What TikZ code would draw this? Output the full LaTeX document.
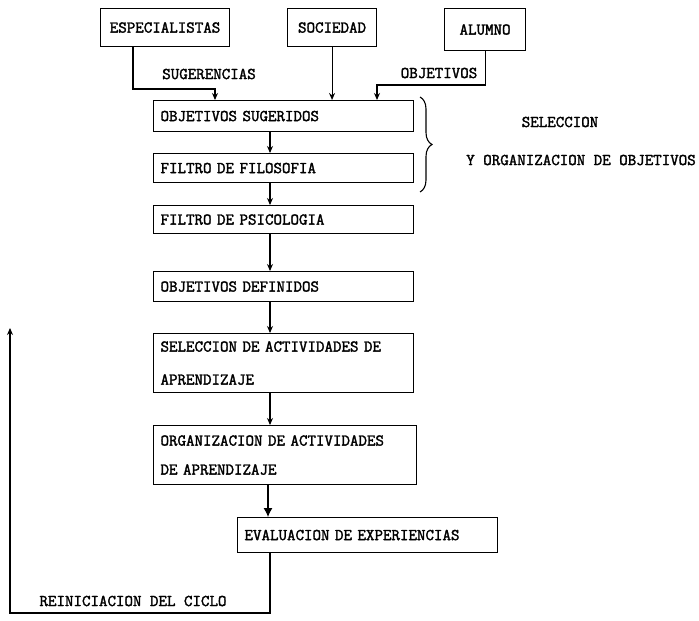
\documentclass[tikz,border=0pt]{standalone}
\usepackage{fontspec}
\newfontfamily\twfont{Latin Modern Mono}[FakeBold=2]
\usetikzlibrary{arrows.meta,decorations.pathreplacing}
\begin{document}
\begin{tikzpicture}[x=1pt,y=-1pt,
  every node/.style={font=\twfont\fontsize{16.5}{19}\selectfont},
  lbox/.style={draw, line width=1.1pt, anchor=north west, inner sep=0pt},
  mbox/.style={draw, line width=1.1pt, anchor=north west, inner xsep=7pt, inner ysep=0pt, align=left, text width=#1},
  conn/.style={line width=1.1pt},
  arr/.style={conn, -{Stealth[length=7pt,width=6pt]}},
  bigarr/.style={conn, -{Latex[length=9pt,width=9pt]}},
]
\useasboundingbox (0,0) rectangle (699,621);

% top boxes
\node[lbox, minimum width=129pt, minimum height=38pt] (esp) at (100,8) {ESPECIALISTAS};
\node[lbox, minimum width=89pt, minimum height=38pt] (soc) at (287,8) {SOCIEDAD};
\node[lbox, minimum width=81pt, minimum height=42pt] (alu) at (444,8) {ALUMNO};

% main boxes
\node[mbox=246pt, minimum height=31pt] (objsug) at (153,100) {OBJETIVOS SUGERIDOS};
\node[mbox=246pt, minimum height=29pt] (filfil) at (153,153) {FILTRO DE FILOSOFIA};
\node[mbox=246pt, minimum height=28pt] (filpsi) at (153,205) {FILTRO DE PSICOLOGIA};
\node[mbox=246pt, minimum height=30pt] (objdef) at (153,271) {OBJETIVOS DEFINIDOS};
\node[mbox=246pt, minimum height=59pt] (selbox) at (153,333) {SELECCION DE ACTIVIDADES DE\\[14pt]APRENDIZAJE};
\node[mbox=249pt, minimum height=59pt] (orgbox) at (153,425) {ORGANIZACION DE ACTIVIDADES\\[10pt]DE APRENDIZAJE};
\node[mbox=246pt, minimum height=35pt] (evalbox) at (237,517) {EVALUACION DE EXPERIENCIAS};

% labels
\node (sug) at (209,74) {SUGERENCIAS};
\node (obj) at (439,73) {OBJETIVOS};
\node (seltxt) at (560,122) {SELECCION};
\node (yorg) at (581,160) {Y ORGANIZACION DE OBJETIVOS};
\node (rein) at (133,601) {REINICIACION DEL CICLO};

% top connectors
\coordinate (espx) at (133,0);
\coordinate (sugarr) at (215,89);
\draw[arr] (esp.south -| espx) |- (sugarr) -- (sugarr |- objsug.north);
\draw[arr] (soc.south) -- (soc.south |- objsug.north);
\coordinate (objarr) at (377,85);
\draw[arr] (alu.south) |- (objarr) -- (objarr |- objsug.north);

% vertical chain
\coordinate (ax) at (270,0);
\draw[arr] (objsug.south -| ax) -- (filfil.north -| ax);
\draw[arr] (filfil.south -| ax) -- (filpsi.north -| ax);
\draw[arr] (filpsi.south -| ax) -- (objdef.north -| ax);
\draw[arr] (objdef.south -| ax) -- (selbox.north -| ax);
\draw[arr] (selbox.south -| ax) -- (orgbox.north -| ax);
\coordinate (bx) at (268,0);
\draw[bigarr] (orgbox.south -| bx) -- (evalbox.north -| bx);

% brace
\draw[line width=1.1pt, decorate, decoration={brace, amplitude=12pt}] (420,97) -- (420,192);

% feedback loop
\coordinate (rb) at (270,613);
\coordinate (lb) at (10,613);
\coordinate (lt) at (10,328);
\draw[arr] (evalbox.south -| rb) -- (rb) -- (lb) -- (lt);
\end{tikzpicture}
\end{document}
